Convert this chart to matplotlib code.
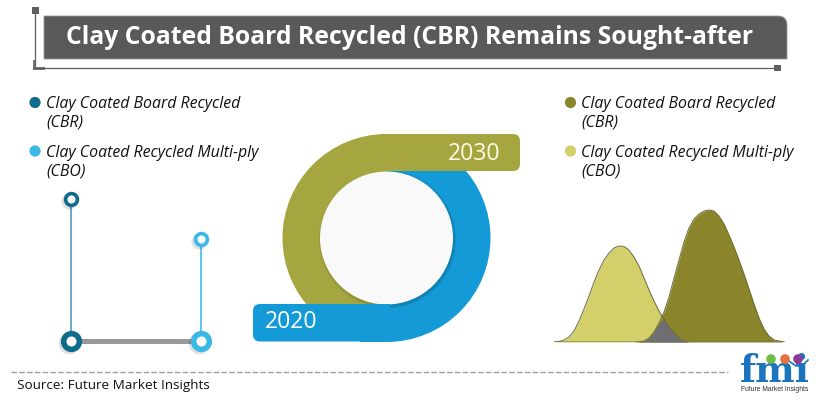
import matplotlib
matplotlib.use("Agg")
import matplotlib.pyplot as plt
from matplotlib.patches import Circle, Wedge, FancyBboxPatch, Rectangle, PathPatch
from matplotlib.path import Path
import numpy as np

W, H = 820, 401
TITLE = "Clay Coated Board Recycled (CBR) Remains Sought-after"
SOURCE = "Source: Future Market Insights"
LEGEND_LEFT = ["Clay Coated Board Recycled\n(CBR)", "Clay Coated Recycled Multi-ply\n(CBO)"]
LEGEND_RIGHT = ["Clay Coated Board Recycled\n(CBR)", "Clay Coated Recycled Multi-ply\n(CBO)"]
YEARS = ["2020", "2030"]

# lollipop panel: relative height of the stems
lolli_categories = ["CBR", "CBO"]
lolli_values = [141.5, 101.5]

# bell curves on a shared horizontal grid
bell_x = list(range(0, 235, 5))
bell_cbo = [0, 0.5, 2, 5, 11, 21, 33, 46, 60, 72, 82, 89, 94, 96, 95.5, 92, 85, 76, 64, 52, 41,
            31, 23, 15, 9, 4, 1, 0, 0, 0, 0, 0, 0, 0, 0, 0, 0, 0, 0, 0, 0, 0, 0, 0, 0, 0, 0]
bell_cbr = [0, 0, 0, 0, 0, 0, 0, 0, 0, 0, 0, 0, 0, 0, 0, 0, 0, 0.3, 1, 4, 10,
            19, 30, 45, 64, 82, 100, 114, 123, 128, 131, 132, 131, 126, 118, 107, 95, 82, 68, 53, 38,
            24, 13, 6, 2, 1, 0]

FONT = "Open Sans"
DARK, MID = "#595959", "#5f5f5f"
TEAL, SKY = "#0f6b8c", "#3ab8e6"
OLIVE_D, OLIVE_L = "#8a852b", "#d3cf6a"
RING_OLIVE, RING_BLUE = "#a6a640", "#149ad6"

fig = plt.figure(figsize=(W / 100, H / 100), dpi=100, facecolor="white")
ax = fig.add_axes([0, 0, 1, 1])
ax.set_xlim(0, W)
ax.set_ylim(H, 0)
ax.axis("off")


def panel(x0, y0, x1, y1):
    a = fig.add_axes([x0 / W, 1 - y1 / H, (x1 - x0) / W, (y1 - y0) / H])
    a.axis("off")
    a.patch.set_alpha(0)
    return a


# ---- title banner
verts = [(44, 16), (778, 16), (787, 16), (787, 25), (787, 59), (44, 59), (44, 16)]
codes = [Path.MOVETO, Path.LINETO, Path.CURVE3, Path.CURVE3, Path.LINETO, Path.LINETO, Path.CLOSEPOLY]
ax.add_patch(PathPatch(Path(verts, codes), fc=DARK, ec="#9a9a9a", lw=0.6))
ax.text(410, 37, TITLE, color="white", fontsize=17.8, fontweight="bold", family=FONT, ha="center", va="center")
ax.plot([35.5, 35.5], [10, 67.5], color=MID, lw=0.9)
ax.plot([33, 775], [67.5, 67.5], color=MID, lw=0.9)
ax.add_patch(Rectangle((32.5, 7), 6.5, 6.5, fc=MID, ec="none"))
ax.add_patch(Rectangle((33, 60), 3.5, 9.5, fc="#777777", ec="none"))
ax.add_patch(Rectangle((33, 67), 12, 2.5, fc="#777777", ec="none"))
ax.add_patch(Rectangle((774.5, 64.5), 6.5, 6.5, fc=MID, ec="none"))

# ---- legends
for x, dot_cols, labels in [(35, (TEAL, SKY), LEGEND_LEFT), (570.5, (OLIVE_D, OLIVE_L), LEGEND_RIGHT)]:
    for y, ty, c, lab in zip((102.5, 151), (95.5, 145), dot_cols, labels):
        ax.add_patch(Circle((x, y), 5.6, fc=c, ec="none"))
        ax.text(x + 11, ty, lab, fontsize=11.4, style="italic", family=FONT, color="#111111",
                ha="left", va="top", linespacing=1.22)

# ---- ring
cx, cy, R, r = 386.5, 238, 104, 66.5
ax.add_patch(Wedge((cx, cy), R, 90, 270, width=R - r + 1, fc=RING_OLIVE, ec="none"))
ax.add_patch(Wedge((cx, cy), R, -90, 90, width=R - r + 1, fc=RING_BLUE, ec="none"))
for k in range(5):
    ax.add_patch(Circle((cx + 1.2, cy + 1.6), r + 2.5 - k * 0.6, fc="#000000", alpha=0.03, ec="none"))
ax.add_patch(Circle((cx, cy), r, fc="#f9f9f9", ec="none"))
ax.add_patch(FancyBboxPatch((392, 134), 128, 37, boxstyle="round,pad=0,rounding_size=7", fc=RING_OLIVE, ec="none"))
ax.add_patch(Rectangle((383, 134), 24, 37, fc=RING_OLIVE, ec="none"))
ax.add_patch(FancyBboxPatch((253, 304), 128, 37.5, boxstyle="round,pad=0,rounding_size=7", fc=RING_BLUE, ec="none"))
ax.add_patch(Rectangle((360, 304), 30, 37.6, fc=RING_BLUE, ec="none"))
ax.text(291.5, 321.5, YEARS[0], color="white", fontsize=16.6, family=FONT, ha="center", va="center")
ax.text(474, 154.5, YEARS[1], color="#fbfbe8", fontsize=16.6, family=FONT, ha="center", va="center")

# ---- lollipops
la = panel(40, 170, 240, 340.7 + 30)
la.set_xlim(40, 240)
la.set_ylim(-30, 170.7)
lx = [71, 201]
lcol = [TEAL, SKY]
stem = ["#75a9c2", "#66c5ea"]
la.plot(lx, [0, 0], color="#999999", lw=3.6, solid_capstyle="butt", zorder=1)
for x, v, c, s in zip(lx, lolli_values, lcol, stem):
    la.plot([x, x], [0, v], color=s, lw=1.5, zorder=1)
    la.plot([x - 2], [-2.5], "o", ms=15.5, color="#000000", alpha=0.12, mec="none", zorder=1.5)
    la.plot([x - 1.5], [v - 2], "o", ms=11.5, color="#000000", alpha=0.12, mec="none", zorder=1.5)
    la.plot([x], [0], "o", ms=11.3, mfc="white", mec=c, mew=4.0, zorder=2)
    la.plot([x], [v], "o", ms=8.5, mfc="white", mec=c, mew=2.6, zorder=2)

# ---- bell curves
ba = panel(554, 200, 790, 342)
ba.set_xlim(0, 236)
ba.set_ylim(0, 142)
cbo = np.array(bell_cbo)
cbr = np.array(bell_cbr)
ba.fill_between(bell_x, 0, cbo, color=OLIVE_L, lw=0)
ba.fill_between(bell_x, 0, cbr, color=OLIVE_D, lw=0)
ba.fill_between(bell_x, 0, np.minimum(cbo, cbr), color="#6f6f73", lw=0)
ba.plot(bell_x, cbo, color="#6d6a45", lw=0.7)
ba.plot(bell_x, cbr, color="#6d6a35", lw=0.7)

# ---- footer
ax.plot([11, 728], [371.7, 371.7], color="#a0a0a0", lw=1.0, dashes=(4, 1.6))
ax.text(17, 386, SOURCE, fontsize=9.7, family=FONT, color="#111111", ha="left", va="center")

# ---- logo
LOGO = "#1c75bc"
ax.text(775, 382.5, "fmi", fontsize=27, family="DejaVu Serif", fontweight="bold", color=LOGO, ha="center", va="baseline")
for y in (367, 371.5, 376, 380.5):
    ax.plot([741, 810], [y, y], color="white", lw=0.6)
ax.add_patch(Rectangle((792, 358), 14, 7.5, fc="white", ec="none", zorder=1.9))
ax.plot([789, 796, 802, 808], [361, 366, 366, 360], color=LOGO, lw=1.2, zorder=2)
for x, c in [(771, "#6fbe44"), (785, "#e8703a"), (798, "#8e3b96")]:
    ax.add_patch(Circle((x, 359), 4.8, fc=c, ec="none", zorder=3))
ax.text(774.5, 389.5, "Future Market Insights", fontsize=4.9, family="Liberation Sans", color="#333333",
        ha="center", va="center")

fig.savefig("out.png", dpi=100, facecolor="white")
